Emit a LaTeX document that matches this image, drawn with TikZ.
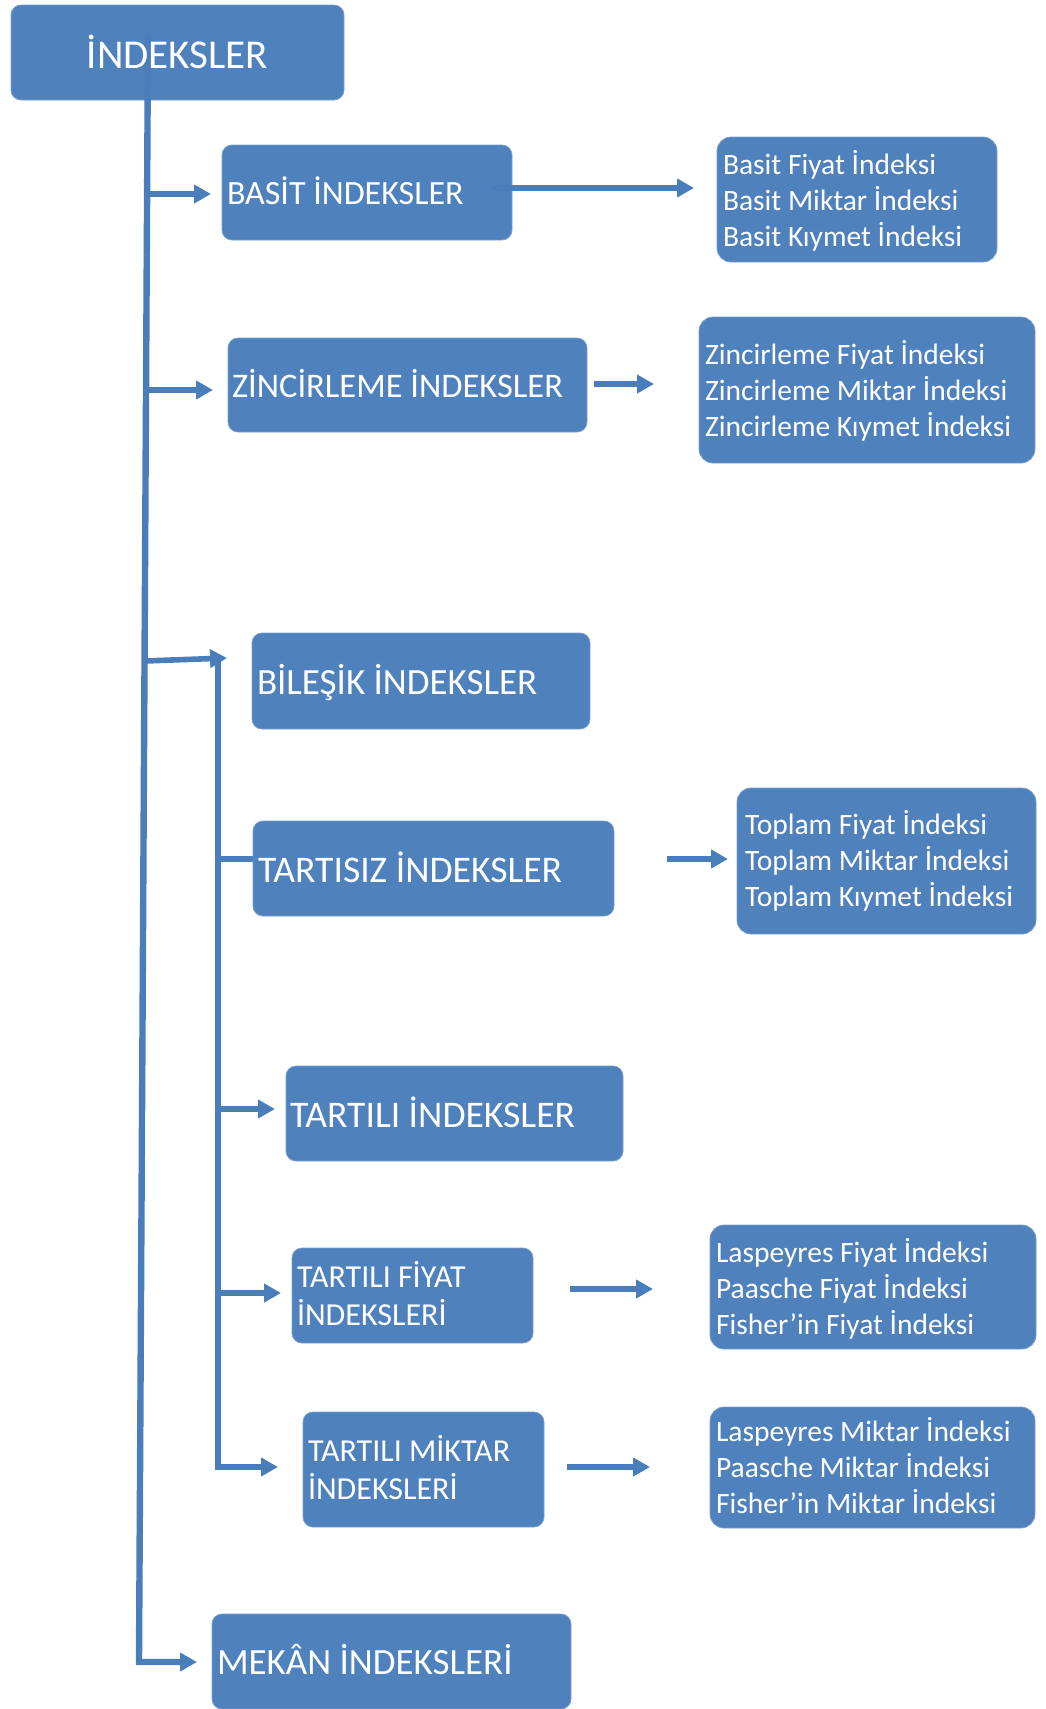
\documentclass[tikz,border=0pt]{standalone}
\usepackage{fontspec}
\setmainfont{Carlito}
\usetikzlibrary{arrows.meta}
\definecolor{boxblue}{HTML}{4F81BD}
\definecolor{linkblue}{HTML}{4A7EBB}
\definecolor{edgeblue}{HTML}{7A9FCF}
\begin{document}
\begin{tikzpicture}[x=1pt,y=-1pt,
  box/.style={rectangle, rounded corners=10pt, fill=boxblue, draw=edgeblue, line width=0.8pt, inner sep=0pt, outer sep=0pt},
  listbox/.style={box, rounded corners=14pt},
  lbl/.style={anchor=base west, inner sep=0pt, outer sep=0pt, text=white},
  conn/.style={draw=linkblue, line width=5.6pt},
  arr/.style={conn, -{Triangle[length=17pt,width=18pt]}},
  bigf/.style={font=\fontsize{37}{44}\selectfont},
  tarf/.style={font=\fontsize{37.6}{44}\selectfont},
  midf/.style={font=\fontsize{34}{41}\selectfont},
  twof/.style={font=\fontsize{32}{38.5}\selectfont},
  listf/.style={font=\fontsize{29.5}{36}\selectfont},
]
\useasboundingbox (0,0) rectangle (1046,1709);

% boxes
\node[box, minimum width=333pt, minimum height=95pt] (b-ind) at (177.5,52.5) {};
\node[box, minimum width=290pt, minimum height=95pt] (b-basit) at (367,192.5) {};
\node[listbox, minimum width=280pt, minimum height=125pt] (b-basitlist) at (857,199.5) {};
\node[box, minimum width=359pt, minimum height=94pt] (b-zinc) at (407.5,385) {};
\node[listbox, minimum width=336pt, minimum height=146pt] (b-zinclist) at (867,390) {};
\node[box, minimum width=338pt, minimum height=96pt] (b-bil) at (421,681) {};
\node[box, minimum width=361pt, minimum height=95pt] (b-tsiz) at (433.5,868.5) {};
\node[listbox, minimum width=299pt, minimum height=146pt] (b-toplam) at (886.5,861) {};
\node[box, minimum width=337pt, minimum height=95pt] (b-tli) at (454.5,1113.5) {};
\node[box, minimum width=241pt, minimum height=95pt] (b-tf) at (412.5,1295.5) {};
\node[listbox, minimum width=326pt, minimum height=124pt] (b-lasf) at (873,1287) {};
\node[box, minimum width=241pt, minimum height=115pt] (b-tm) at (423.5,1469.5) {};
\node[listbox, minimum width=325pt, minimum height=121pt] (b-lasm) at (872.5,1467.5) {};
\node[box, minimum width=359pt, minimum height=95pt] (b-mekan) at (391.5,1661.5) {};

% connector end points
\coordinate (c-top) at (148,33);
\coordinate (c-bot) at (139,1662);
\coordinate (c-mekan) at (197,1662);
\coordinate (c-basit0) at (147,194);
\coordinate (c-basit1) at (211,194);
\coordinate (c-zinc0) at (146,390);
\coordinate (c-zinc1) at (213,390);
\coordinate (c-bil0) at (144.5,661);
\coordinate (c-bil1) at (227,658);
\coordinate (c-sub0) at (218,659);
\coordinate (c-sub1) at (218,1467);
\coordinate (c-tm1) at (278,1467);
\coordinate (c-tsiz0) at (218,859);
\coordinate (c-tli0) at (218,1109);
\coordinate (c-tli1) at (275,1109);
\coordinate (c-tf0) at (218,1293);
\coordinate (c-tf1) at (281,1293);
\coordinate (c-bl0) at (492,188);
\coordinate (c-bl1) at (694,188);
\coordinate (c-zl0) at (594,384);
\coordinate (c-zl1) at (654,384);
\coordinate (c-tl0) at (667,859);
\coordinate (c-tl1) at (728,859);
\coordinate (c-fl0) at (570,1289);
\coordinate (c-fl1) at (653,1289);
\coordinate (c-ml0) at (567,1467);
\coordinate (c-ml1) at (650,1467);

% connectors
\draw[arr, line width=6.4pt] (c-top) -- (c-bot) -- (c-mekan);
\draw[arr] (c-basit0) -- (c-basit1);
\draw[arr] (c-zinc0) -- (c-zinc1);
\draw[arr] (c-bil0) -- (c-bil1);
\draw[arr] (c-sub0) -- (c-sub1) -- (c-tm1);
\draw[conn] (c-tsiz0) -- (b-tsiz.west |- c-tsiz0);
\draw[arr] (c-tli0) -- (c-tli1);
\draw[arr] (c-tf0) -- (c-tf1);
\draw[arr] (c-bl0) -- (c-bl1);
\draw[arr] (c-zl0) -- (c-zl1);
\draw[arr] (c-tl0) -- (c-tl1);
\draw[arr] (c-fl0) -- (c-fl1);
\draw[arr] (c-ml0) -- (c-ml1);

% texts
\node[lbl, anchor=base, font=\fontsize{41}{49}\selectfont] (t-ind) at (177.5,68) {İNDEKSLER};
\node[lbl, midf] (t-basit) at (227,204) {BASİT İNDEKSLER};
\node[lbl, font=\fontsize{34.5}{41}\selectfont] (t-zinc) at (232,397) {ZİNCİRLEME İNDEKSLER};
\node[lbl, bigf] (t-bil) at (257,694) {BİLEŞİK İNDEKSLER};
\node[lbl, tarf] (t-tsiz) at (258,882) {TARTISIZ İNDEKSLER};
\node[lbl, tarf] (t-tli) at (290,1127) {TARTILI İNDEKSLER};
\node[lbl, twof] (t-tf) at (297,1287) {\vtop{\hbox{TARTILI FİYAT}\hbox{İNDEKSLERİ}}};
\node[lbl, twof] (t-tm) at (308,1461) {\vtop{\hbox{TARTILI MİKTAR}\hbox{İNDEKSLERİ}}};
\node[lbl, bigf] (t-mekan) at (217,1674) {MEKÂN İNDEKSLERİ};

\node[lbl, listf] (t-basitlist) at (723,174) {\vtop{\hbox{Basit Fiyat İndeksi}\hbox{Basit Miktar İndeksi}\hbox{Basit Kıymet İndeksi}}};
\node[lbl, listf] (t-zinclist) at (705,364.5) {\vtop{\hbox{Zincirleme Fiyat İndeksi}\hbox{Zincirleme Miktar İndeksi}\hbox{Zincirleme Kıymet İndeksi}}};
\node[lbl, listf] (t-toplam) at (745,834) {\vtop{\hbox{Toplam Fiyat İndeksi}\hbox{Toplam Miktar İndeksi}\hbox{Toplam Kıymet İndeksi}}};
\node[lbl, listf] (t-lasf) at (716,1262) {\vtop{\hbox{Laspeyres Fiyat İndeksi}\hbox{Paasche Fiyat İndeksi}\hbox{Fisher’in Fiyat İndeksi}}};
\node[lbl, listf] (t-lasm) at (716,1441) {\vtop{\hbox{Laspeyres Miktar İndeksi}\hbox{Paasche Miktar İndeksi}\hbox{Fisher’in Miktar İndeksi}}};
\end{tikzpicture}
\end{document}
